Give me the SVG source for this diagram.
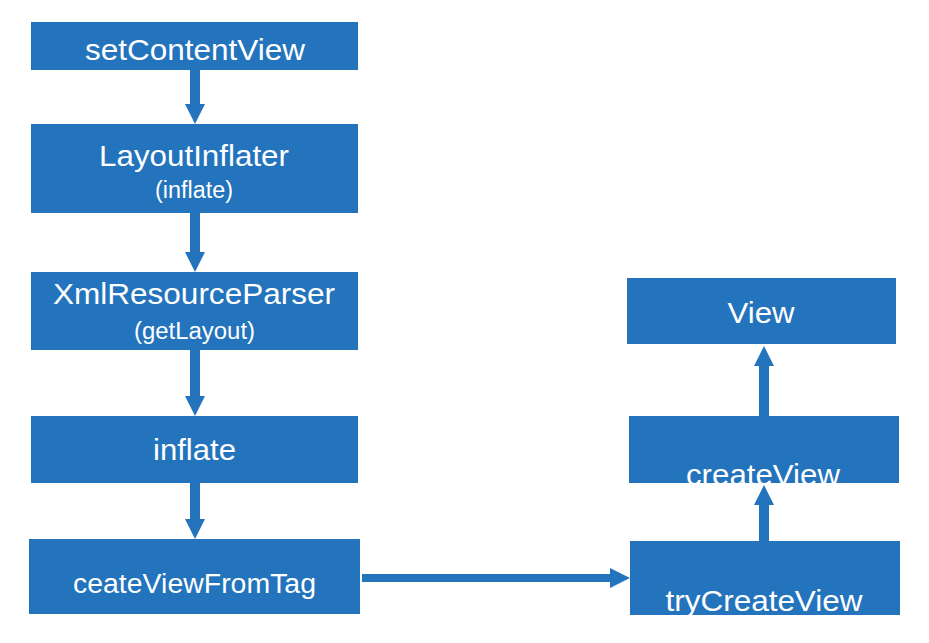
<svg xmlns="http://www.w3.org/2000/svg" width="929" height="643" viewBox="0 0 929 643">
<style>
.box{fill:#2373bd}
.t{fill:#ffffff;font-family:"Liberation Sans",Arial,Helvetica,sans-serif;font-size:29px;text-anchor:middle}
.s{font-size:23px}
.c{stroke:#2373bd;stroke-width:10;fill:none}
.h{stroke-width:8}
</style>
<defs>
<marker id="ah" markerUnits="userSpaceOnUse" markerWidth="20" markerHeight="20" refX="0" refY="10" orient="auto" viewBox="0 0 20 20">
<path d="M0,0 L20,10 L0,20 z" fill="#2373bd"/>
</marker>
<clipPath id="cpCreate"><rect x="629" y="416" width="270" height="67"/></clipPath>
<clipPath id="cpTry"><rect x="630" y="541" width="270" height="74"/></clipPath>
</defs>
<rect width="929" height="643" fill="#ffffff"/>
<g id="connectors">
<line class="c" x1="195" y1="70" x2="195" y2="104" marker-end="url(#ah)"/>
<line class="c" x1="195" y1="213" x2="195" y2="252" marker-end="url(#ah)"/>
<line class="c" x1="195" y1="350" x2="195" y2="396" marker-end="url(#ah)"/>
<line class="c" x1="195" y1="483" x2="195" y2="519" marker-end="url(#ah)"/>
<line class="c h" x1="362" y1="578" x2="610" y2="578" marker-end="url(#ah)"/>
<line class="c" x1="764" y1="416" x2="764" y2="366" marker-end="url(#ah)"/>
<line class="c" x1="764" y1="541" x2="764" y2="505" marker-end="url(#ah)"/>
</g>
<g id="setContentView">
<rect class="box" x="31" y="22" width="327" height="48"/>
<text class="t" x="195" y="60" textLength="220" lengthAdjust="spacingAndGlyphs">setContentView</text>
</g>
<g id="layoutInflater">
<rect class="box" x="31" y="124" width="327" height="89"/>
<text class="t" x="194" y="166" textLength="190" lengthAdjust="spacingAndGlyphs">LayoutInflater</text>
<text class="t s" x="194" y="198" textLength="78" lengthAdjust="spacingAndGlyphs">(inflate)</text>
</g>
<g id="xmlResourceParser">
<rect class="box" x="31" y="272" width="327" height="78"/>
<text class="t" x="194" y="304" textLength="282" lengthAdjust="spacingAndGlyphs">XmlResourceParser</text>
<text class="t s" x="194.5" y="339" textLength="121" lengthAdjust="spacingAndGlyphs">(getLayout)</text>
</g>
<g id="inflate">
<rect class="box" x="31" y="416" width="327" height="67"/>
<text class="t" x="194.5" y="460" textLength="83" lengthAdjust="spacingAndGlyphs">inflate</text>
</g>
<g id="ceateViewFromTag">
<rect class="box" x="29" y="539" width="331" height="75"/>
<text class="t" x="194.5" y="593" style="font-size:27px" textLength="243" lengthAdjust="spacingAndGlyphs">ceateViewFromTag</text>
</g>
<g id="view">
<rect class="box" x="627" y="278" width="269" height="66"/>
<text class="t" x="761" y="323" textLength="67" lengthAdjust="spacingAndGlyphs">View</text>
</g>
<g id="createView">
<rect class="box" x="629" y="416" width="270" height="67"/>
<text class="t" x="763" y="485" clip-path="url(#cpCreate)" textLength="154" lengthAdjust="spacingAndGlyphs">createView</text>
</g>
<g id="tryCreateView">
<rect class="box" x="630" y="541" width="270" height="74"/>
<text class="t" x="764" y="611" clip-path="url(#cpTry)" textLength="197" lengthAdjust="spacingAndGlyphs">tryCreateView</text>
</g>
</svg>
